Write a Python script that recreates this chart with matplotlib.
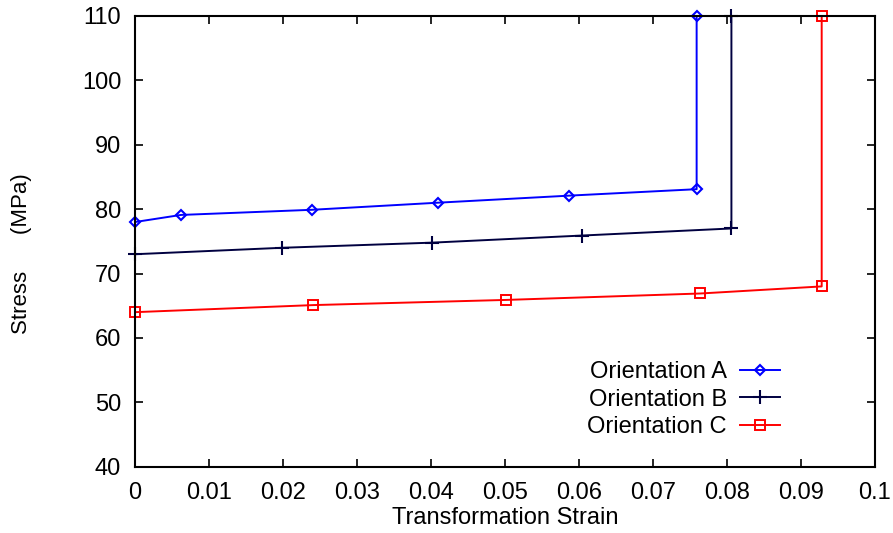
import matplotlib
matplotlib.use("Agg")
import matplotlib.pyplot as plt

plt.rcParams['font.family'] = ['Liberation Sans', 'DejaVu Sans']

strain_a = [0.0, 0.0062, 0.0239, 0.0409, 0.0587, 0.0759, 0.0759]
stress_a = [78, 79.1, 79.9, 81, 82.1, 83.1, 110]
strain_b = [0.0, 0.0199, 0.0402, 0.0604, 0.0806, 0.0806]
stress_b = [73, 74, 74.8, 75.9, 77, 110]
strain_c = [0.0, 0.0241, 0.0501, 0.0764, 0.0928, 0.0928]
stress_c = [64, 65.1, 65.9, 66.9, 68, 110]
labels = ["Orientation A", "Orientation B", "Orientation C"]
xticks = [0, 0.01, 0.02, 0.03, 0.04, 0.05, 0.06, 0.07, 0.08, 0.09, 0.1]
xticklabels = ["0", "0.01", "0.02", "0.03", "0.04", "0.05", "0.06", "0.07", "0.08", "0.09", "0.1"]
yticks = [40, 50, 60, 70, 80, 90, 100, 110]

FS = 17

fig = plt.figure(figsize=(8.93, 5.33), dpi=100)
ax = fig.add_axes([0.1512, 0.1244, 0.8286, 0.8456])

ax.plot(strain_a, stress_a, color='#0000ff', lw=1.4, marker='D', ms=5,
        mfc='none', mec='#0000ff', mew=1.5, label=labels[0], clip_on=False)
ax.plot(strain_b, stress_b, color='#000040', lw=1.4, marker='+', ms=10,
        mew=1.5, label=labels[1], clip_on=False)
ax.plot(strain_c, stress_c, color='#ff0000', lw=1.4, marker='s', ms=7,
        mfc='none', mec='#ff0000', mew=1.4, label=labels[2], clip_on=False)

ax.set_xlim(0, 0.1)
ax.set_ylim(40, 110)
ax.set_xticks(xticks)
ax.set_xticklabels(xticklabels)
ax.set_yticks(yticks)
ax.tick_params(direction='in', top=True, right=True, length=6, width=1.2,
               labelsize=FS, pad=10)
ax.tick_params(axis='x', pad=11)
for s in ax.spines.values():
    s.set_linewidth(1.5)

ax.set_xlabel("Transformation Strain", fontsize=FS, labelpad=2)
ax.set_ylabel("Stress      (MPa)", fontsize=16)
ax.yaxis.set_label_coords(-0.139, 0.472)

leg = ax.legend(loc='lower right', bbox_to_anchor=(0.8716, 0.064), frameon=False,
                markerfirst=False, fontsize=FS, handlelength=1.7,
                labelspacing=0.22, handletextpad=0.55, borderpad=0, borderaxespad=0)

fig.savefig("out.png", dpi=100)
